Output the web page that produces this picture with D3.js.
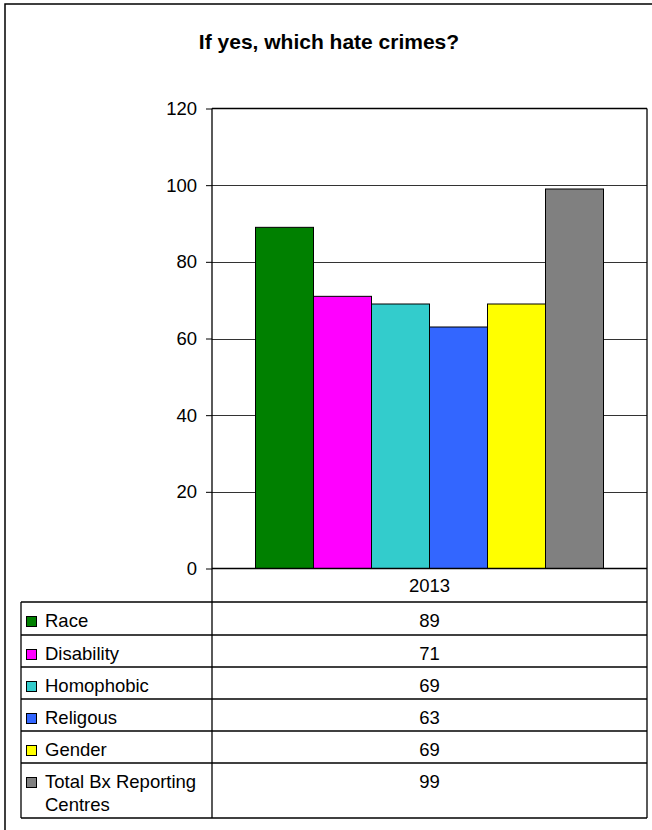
<!DOCTYPE html>
<html lang="en">
<head>
<meta charset="UTF-8">
<title>If yes, which hate crimes?</title>
<script src="https://d3js.org/d3.v7.min.js"></script>
<style>
    body { margin: 0; background: #fff; }
    svg { display: block; font-family: "Liberation Sans", Arial, sans-serif; }
</style>
</head>
<body>
<div id="chart"></div>
<script>
// Chart data
const years = ["2013"];
const categories = ["Race", "Disability", "Homophobic", "Religous", "Gender", "Total Bx Reporting Centres"];
const labelLines = [["Race"], ["Disability"], ["Homophobic"], ["Religous"], ["Gender"], ["Total Bx Reporting", "Centres"]];
const values = [89, 71, 69, 63, 69, 99];
const colors = ["#008000", "#ff00ff", "#33cccc", "#3366ff", "#ffff00", "#808080"];
const yTicks = [0, 20, 40, 60, 80, 100, 120];

const width = 652, height = 830;
const plot = { left: 212, right: 647, top: 108.5, bottom: 568.5 };
const tableLeft = 21;
const headerBottom = 602;
const rowHeights = [33, 32, 32, 32, 32, 55];

const svg = d3.select("#chart").append("svg")
    .attr("width", width)
    .attr("height", height);

// outer frame
svg.append("rect")
    .attr("x", 5).attr("y", 4)
    .attr("width", 700).attr("height", 900)
    .attr("fill", "none")
    .attr("stroke", "#000")
    .attr("stroke-width", 1.5);

svg.append("text")
    .attr("x", 329).attr("y", 49)
    .attr("text-anchor", "middle")
    .style("font-size", "21px")
    .style("font-weight", "bold")
    .text("If yes, which hate crimes?");

const y = d3.scaleLinear().domain([0, 120]).range([plot.bottom, plot.top]);

const x0 = d3.scaleBand().domain(years)
    .range([plot.left, plot.right])
    .paddingInner(0.2).paddingOuter(0.1);

const x1 = d3.scaleBand().domain(categories)
    .range([0, x0.bandwidth()]);

// gridlines
svg.append("g")
    .selectAll("line")
    .data(yTicks.filter(d => d > 0 && d < 120))
    .join("line")
    .attr("x1", plot.left).attr("x2", plot.right)
    .attr("y1", d => Math.round(y(d)) + 0.5).attr("y2", d => Math.round(y(d)) + 0.5)
    .attr("stroke", "#333");

// bars
svg.append("g")
    .selectAll("g")
    .data(years)
    .join("g")
    .attr("transform", d => `translate(${x0(d)},0)`)
    .selectAll("rect")
    .data(categories.map((c, i) => ({ c, v: values[i], color: colors[i] })))
    .join("rect")
    .attr("x", d => x1(d.c))
    .attr("y", d => y(d.v))
    .attr("width", x1.bandwidth())
    .attr("height", d => y(0) - y(d.v))
    .attr("fill", d => d.color)
    .attr("stroke", "#000")
    .attr("stroke-width", 1);

// y axis
const yAxis = d3.axisLeft(y).tickValues(yTicks).tickSize(6).tickPadding(9);
const ya = svg.append("g")
    .attr("transform", `translate(${plot.left},0)`)
    .call(yAxis);
ya.select(".domain").remove();
ya.selectAll("line").attr("stroke", "#000");
ya.selectAll("text")
    .style("font-size", "18.5px")
    .style("font-family", "'Liberation Sans', Arial, sans-serif")
    .attr("fill", "#000");

// plot frame: top, right, zero line, left axis
const frame = svg.append("g").attr("stroke", "#000").attr("stroke-width", 1.5);
frame.append("line").attr("x1", plot.left).attr("x2", plot.right).attr("y1", plot.top).attr("y2", plot.top);
frame.append("line").attr("x1", plot.left).attr("x2", plot.right).attr("y1", plot.bottom).attr("y2", plot.bottom);

// data table
const rowTops = [headerBottom];
rowHeights.forEach((h, i) => rowTops.push(rowTops[i] + h));
const tableBottom = rowTops[rowTops.length - 1];

const tbl = svg.append("g").attr("stroke", "#000").attr("stroke-width", 1.3);
tbl.selectAll("line.row")
    .data(rowTops)
    .join("line")
    .attr("class", "row")
    .attr("x1", tableLeft).attr("x2", plot.right)
    .attr("y1", d => d).attr("y2", d => d);
tbl.append("line").attr("x1", tableLeft).attr("x2", tableLeft).attr("y1", headerBottom).attr("y2", tableBottom);
tbl.append("line").attr("x1", plot.left).attr("x2", plot.left).attr("y1", plot.top).attr("y2", tableBottom);
tbl.append("line").attr("x1", plot.right).attr("x2", plot.right).attr("y1", plot.top).attr("y2", tableBottom);

// header
svg.append("g")
    .selectAll("text")
    .data(years)
    .join("text")
    .attr("x", d => x0(d) + x0.bandwidth() / 2)
    .attr("y", 592)
    .attr("text-anchor", "middle")
    .style("font-size", "18.5px")
    .text(d => d);

const rows = svg.append("g")
    .selectAll("g")
    .data(categories.map((c, i) => ({ c, i, v: values[i], color: colors[i], lines: labelLines[i] })))
    .join("g")
    .attr("transform", d => `translate(0,${rowTops[d.i]})`);

rows.append("rect")
    .attr("x", 26.5).attr("y", 14.5)
    .attr("width", 10).attr("height", 10)
    .attr("fill", d => d.color)
    .attr("stroke", "#000");

rows.append("text")
    .attr("x", 45)
    .attr("y", 25)
    .style("font-size", "18.5px")
    .selectAll("tspan")
    .data(d => d.lines)
    .join("tspan")
    .attr("x", 45)
    .attr("dy", (d, i) => i === 0 ? 0 : 22.5)
    .text(d => d);

rows.append("text")
    .attr("x", x0(years[0]) + x0.bandwidth() / 2)
    .attr("y", 24.5)
    .attr("text-anchor", "middle")
    .style("font-size", "18.5px")
    .text(d => d.v);
</script>
</body>
</html>
